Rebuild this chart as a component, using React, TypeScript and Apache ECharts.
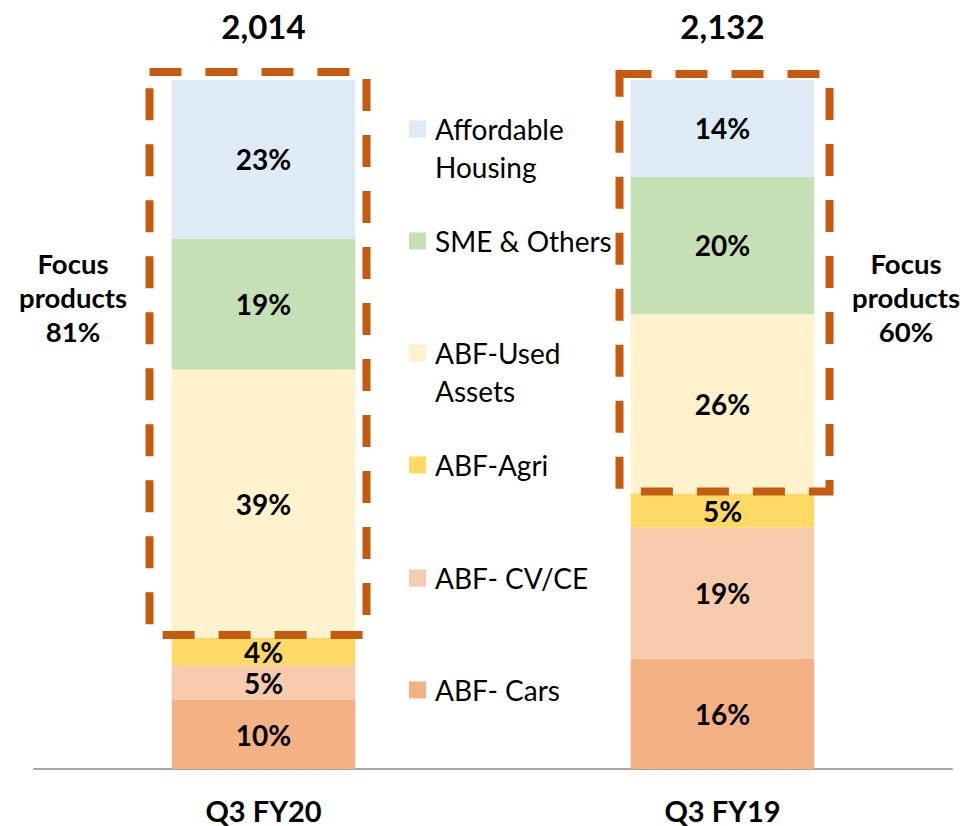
import React, { useEffect, useRef } from "react";
import * as echarts from "echarts";

const categories = ["Q3 FY20", "Q3 FY19"];
const totals = [2014, 2132];
const seriesNames = ["ABF- Cars", "ABF- CV/CE", "ABF-Agri", "ABF-Used Assets", "SME & Others", "Affordable Housing"];
const carsValues = [10, 16];
const cvceValues = [5, 19];
const agriValues = [4, 5];
const usedValues = [39, 26];
const smeValues = [19, 20];
const affordableValues = [23, 14];
const seriesColors = ["#F4B183", "#F8CBAD", "#FFD966", "#FFF2CC", "#C5E0B4", "#DEEBF7"];
const focusSeries = [3, 4, 5];
const legendLabels: Record<string, string> = {
  "Affordable Housing": "\u00a0\nAffordable\nHousing",
  "ABF-Used Assets": "\u00a0\nABF-Used\nAssets",
};

const FONT = "Lato";

export default function App() {
  const ref = useRef<HTMLDivElement>(null);
  useEffect(() => {
    if (!ref.current) return;
    const chart = echarts.init(ref.current, null, { renderer: "svg", width: 979, height: 826 });
    const values = [carsValues, cvceValues, agriValues, usedValues, smeValues, affordableValues];
    const series = seriesNames.map((name, k) => ({
      name,
      type: "bar",
      stack: "total",
      barWidth: "40%",
      data: values[k],
      itemStyle: { color: seriesColors[k] },
      label: {
        show: true,
        position: "inside",
        formatter: "{c}%",
        color: "#000",
        fontFamily: FONT,
        fontWeight: "bold",
        fontSize: 28,
      },
    }));
    const legendCenters = [129, 241, 353, 465, 578, 690];
    const legendOrder = [...seriesNames].reverse();
    const legends = legendOrder.map((name, i) => {
      const twoLine = !!legendLabels[name];
      return {
        data: [name],
        orient: "vertical",
        left: 409,
        top: legendCenters[i] - (twoLine ? 57 : 19),
        padding: 0,
        itemWidth: 17,
        itemHeight: 17,
        icon: "rect",
        selectedMode: false,
        formatter: (n: string) => legendLabels[n] || n,
        textStyle: {
          fontFamily: FONT,
          fontSize: 28,
          color: "#000",
          lineHeight: 38,
          padding: [0, 0, 0, 4],
        },
      };
    });
    const focusSums = categories.map((_, i) => focusSeries.reduce((s, k) => s + values[k][i], 0));
    const option: any = {
      animation: false,
      grid: { left: 34, right: 27, top: 80, bottom: 57 },
      xAxis: [
        {
          type: "category",
          data: categories,
          axisLine: { lineStyle: { color: "#A6A6A6", width: 2 } },
          axisTick: { show: false },
          axisLabel: {
            fontFamily: FONT,
            fontWeight: "bold",
            fontSize: 29,
            lineHeight: 28,
            color: "#000",
            margin: 27,
          },
        },
        {
          type: "category",
          position: "top",
          data: totals.map((t) => t.toLocaleString("en-US")),
          axisLine: { show: false },
          axisTick: { show: false },
          axisLabel: { fontFamily: FONT, fontWeight: "bold", fontSize: 33, color: "#000", margin: 38 },
        },
      ],
      yAxis: { type: "value", min: 0, max: 100, show: false },
      legend: legends,
      series,
    };
    chart.setOption(option);
    const nonFocus = categories.map((_, i) => values[0][i] + values[1][i] + values[2][i]);
    const leftOff = [-114, -103];
    const rightOff = [103, 107];
    const topOff = [-8, -6];
    const botOff = [-3, -2];
    const graphics: any[] = [];
    categories.forEach((_, i) => {
      const top = chart.convertToPixel({ gridIndex: 0 } as any, [i, 100]) as number[];
      const bot = chart.convertToPixel({ gridIndex: 0 } as any, [i, nonFocus[i]]) as number[];
      const x0 = top[0] + leftOff[i];
      const x1 = top[0] + rightOff[i];
      const y0 = top[1] + topOff[i];
      const y1 = bot[1] + botOff[i];
      graphics.push({
        type: "rect",
        shape: { x: x0, y: y0, width: x1 - x0, height: y1 - y0 },
        style: { fill: "none", stroke: "#C55A11", lineWidth: 8, lineDash: [32, 24] },
        z: 10,
      });
    });
    const focusX = [73, 906];
    categories.forEach((_, i) => {
      graphics.push({
        type: "text",
        x: focusX[i],
        y: 297,
        style: {
          text: "Focus\nproducts\n" + focusSums[i] + "%",
          fontFamily: FONT,
          fontWeight: "bold",
          fontSize: 27.5,
          lineHeight: 34,
          fill: "#000",
          align: "center",
          verticalAlign: "middle",
        },
      });
    });
    chart.setOption({ graphic: graphics });
    return () => chart.dispose();
  }, []);
  return <div ref={ref} style={{ width: 979, height: 826, position: "absolute", left: 0, top: 0 }} />;
}
